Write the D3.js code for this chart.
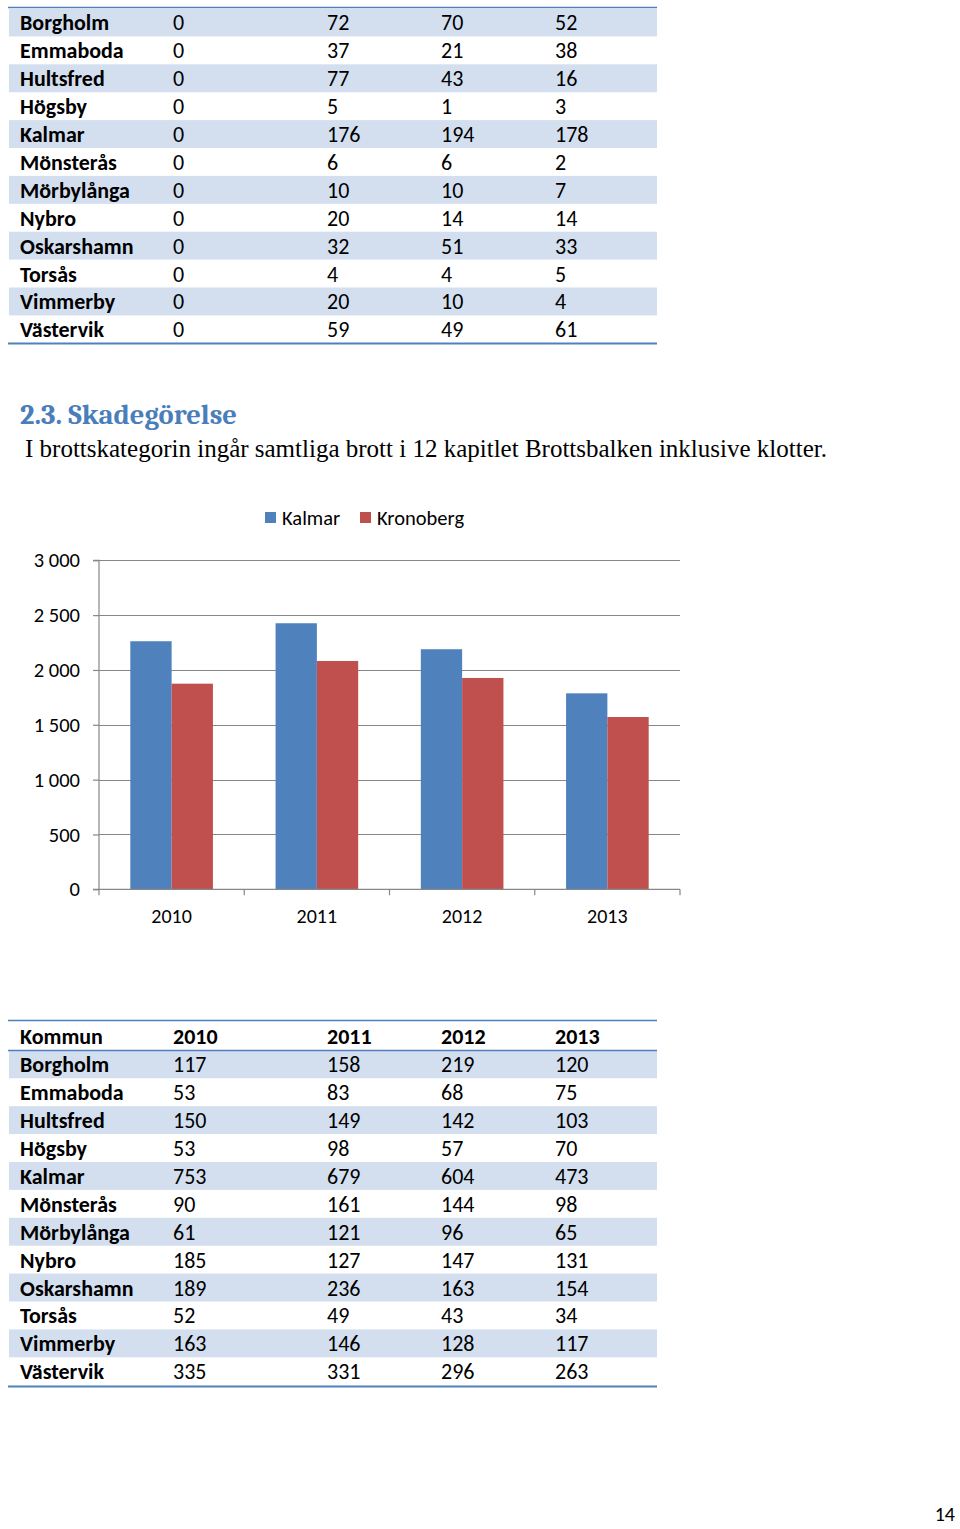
<!DOCTYPE html>
<html><head><meta charset="utf-8">
<script src="https://cdn.jsdelivr.net/npm/d3@7"></script>
<style>
body{margin:0;background:#fff;}
svg{display:block;}
</style></head>
<body>
<svg id="page" width="960" height="1529"></svg>
<script>
// ---------- data ----------
const topNames = ["Borgholm","Emmaboda","Hultsfred","Högsby","Kalmar","Mönsterås","Mörbylånga","Nybro","Oskarshamn","Torsås","Vimmerby","Västervik"];
const topColA = [0,0,0,0,0,0,0,0,0,0,0,0];
const topColB = [72,37,77,5,176,6,10,20,32,4,20,59];
const topColC = [70,21,43,1,194,6,10,14,51,4,10,49];
const topColD = [52,38,16,3,178,2,7,14,33,5,4,61];

const heading = "2.3. Skadegörelse";
const paragraph = "I brottskategorin ingår samtliga brott i 12 kapitlet Brottsbalken inklusive klotter.";

const years = ["2010","2011","2012","2013"];
const seriesNames = ["Kalmar","Kronoberg"];
const kalmar = [2262,2426,2189,1787];
const kronoberg = [1875,2082,1927,1571];
const yTicks = [0,500,1000,1500,2000,2500,3000];

const tableHeader = ["Kommun","2010","2011","2012","2013"];
const kommuner = ["Borgholm","Emmaboda","Hultsfred","Högsby","Kalmar","Mönsterås","Mörbylånga","Nybro","Oskarshamn","Torsås","Vimmerby","Västervik"];
const v2010 = [117,53,150,53,753,90,61,185,189,52,163,335];
const v2011 = [158,83,149,98,679,161,121,127,236,49,146,331];
const v2012 = [219,68,142,57,604,144,96,147,163,43,128,296];
const v2013 = [120,75,103,70,473,98,65,131,154,34,117,263];
const pageNumber = "14";

// ---------- styles ----------
const FONT = "Carlito, Lato, 'Open Sans', sans-serif";
const SERIF = "'Liberation Serif', 'DejaVu Serif', serif";
const BLUE = "#4F81BD", RED = "#C0504D", SHADE = "#D3DFEE", GRID = "#878787";
const svg = d3.select("#page");

// ---------- table helper ----------
function drawTable(g, rows, opts){
  const x0 = 8, x1 = 657, rh = 27.9;
  const colX = [20,173,327,441,555];
  const rowY = d3.scaleBand().domain(d3.range(rows.length)).range([opts.top, opts.top + rh*rows.length]);
  g.selectAll("rect.shade").data(rows.map((r,i)=>i).filter(i => (i + opts.shadeOffset) % 2 === 0))
    .join("rect").attr("class","shade")
    .attr("x", x0+1).attr("width", x1-x0-1)
    .attr("y", i => rowY(i)).attr("height", rowY.bandwidth())
    .attr("fill", SHADE);
  const rowG = g.selectAll("g.row").data(rows).join("g").attr("class","row")
    .attr("transform",(d,i)=>`translate(0,${rowY(i) + rowY.bandwidth()/2 + 8})`);
  rowG.selectAll("text").data((d,i)=>d.map((v,j)=>({v,j,i})))
    .join("text")
    .attr("x", d => colX[d.j])
    .attr("font-family", FONT)
    .attr("font-size", 22)
    .attr("font-weight", d => (d.j===0 || (opts.boldRow0 && d.i===0)) ? "bold" : "normal")
    .attr("fill","#000")
    .text(d => d.v);
  return rowY;
}

// ---------- top table ----------
const topRows = topNames.map((n,i)=>[n, topColA[i], topColB[i], topColC[i], topColD[i]]);
const gTop = svg.append("g");
gTop.append("line").attr("x1",8).attr("x2",657).attr("y1",7.5).attr("y2",7.5).attr("stroke",BLUE).attr("stroke-width",1.5);
const ryTop = drawTable(gTop, topRows, {top: 8.5, shadeOffset: 0});
gTop.append("line").attr("x1",8).attr("x2",657).attr("y1",343.5).attr("y2",343.5).attr("stroke",BLUE).attr("stroke-width",2);

// ---------- heading + paragraph ----------
svg.append("text").attr("x",20).attr("y",424).attr("font-family","Cambria, 'Liberation Serif', serif")
  .attr("font-weight","bold").attr("font-size",28.5).attr("fill","#4A7EBB").text(heading);
svg.append("text").attr("x",25).attr("y",457).attr("font-family",SERIF)
  .attr("font-size",25).attr("fill","#000").text(paragraph);

// ---------- chart ----------
const xL = 99, xR = 680, y0 = 889.3, y3000 = 560.3;
const x = d3.scaleBand().domain(years).range([xL, xR]).padding(0);
const xs = d3.scaleBand().domain(seriesNames).range([0, x.bandwidth()]).paddingInner(0).paddingOuter(0.758);
const y = d3.scaleLinear().domain([0,3000]).range([y0, y3000]);
const loc = d3.formatLocale({decimal:",", thousands:"\u00a0", grouping:[3], currency:["","kr"]});
const fmt = loc.format(",d");

const gC = svg.append("g");
// gridlines
gC.selectAll("line.grid").data(yTicks.filter(t=>t>0)).join("line").attr("class","grid")
  .attr("x1",xL).attr("x2",xR).attr("y1",d=>Math.round(y(d))+0.5).attr("y2",d=>Math.round(y(d))+0.5)
  .attr("stroke",GRID).attr("stroke-width",1.2);

// bars
const seriesVals = {Kalmar: kalmar, Kronoberg: kronoberg};
const colors = d3.scaleOrdinal().domain(seriesNames).range([BLUE, RED]);
const barData = [];
years.forEach((yr,i)=>seriesNames.forEach(s=>barData.push({yr, s, v: seriesVals[s][i]})));
gC.selectAll("rect.bar").data(barData).join("rect").attr("class","bar")
  .attr("x", d => x(d.yr) + xs(d.s)).attr("width", xs.bandwidth())
  .attr("y", d => y(d.v)).attr("height", d => y(0) - y(d.v))
  .attr("fill", d => colors(d.s));

// y axis
const yAxis = d3.axisLeft(y).tickValues(yTicks).tickSize(6).tickPadding(13).tickFormat(fmt);
const gy = gC.append("g").attr("transform",`translate(${xL},0)`).call(yAxis);
gy.select(".domain").attr("stroke",GRID).attr("stroke-width",1.2).attr("d",`M-6,${y3000}H0V${y0}`);
gy.selectAll(".tick line").attr("stroke",GRID).attr("stroke-width",1.2);
gy.selectAll(".tick text").attr("font-family",FONT).attr("font-size",20.5).attr("fill","#000");

// x axis
const gx = gC.append("g").attr("transform",`translate(0,${y0})`);
gx.append("line").attr("x1",xL-6).attr("x2",xR).attr("y1",0).attr("y2",0).attr("stroke",GRID).attr("stroke-width",1.2);
const bounds = years.map(d=>x(d)).concat([xR]);
gx.selectAll("line.tk").data(bounds).join("line").attr("class","tk")
  .attr("x1",d=>d).attr("x2",d=>d).attr("y1",0).attr("y2",6).attr("stroke",GRID).attr("stroke-width",1.2);
gx.selectAll("text").data(years).join("text")
  .attr("x", d => x(d) + x.bandwidth()/2).attr("y", 34)
  .attr("text-anchor","middle").attr("font-family",FONT).attr("font-size",20).attr("fill","#000")
  .text(d=>d);

// legend
const legendX = [265, 360];
const gL = svg.append("g");
const li = gL.selectAll("g").data(seriesNames).join("g").attr("transform",(d,i)=>`translate(${legendX[i]},512)`);
li.append("rect").attr("width",11).attr("height",11).attr("fill",d=>colors(d));
li.append("text").attr("x",17).attr("y",13).attr("font-family",FONT).attr("font-size",20.5).attr("fill","#000").text(d=>d);

// ---------- bottom table ----------
const botRows = [tableHeader].concat(kommuner.map((n,i)=>[n, v2010[i], v2011[i], v2012[i], v2013[i]]));
const gBot = svg.append("g");
gBot.append("line").attr("x1",8).attr("x2",657).attr("y1",1020.5).attr("y2",1020.5).attr("stroke",BLUE).attr("stroke-width",1.5);
const ryBot = drawTable(gBot, botRows, {top: 1022.5, shadeOffset: 1, boldRow0: true});
gBot.append("line").attr("x1",8).attr("x2",657).attr("y1",ryBot(1)).attr("y2",ryBot(1)).attr("stroke",BLUE).attr("stroke-width",1.5);
gBot.append("line").attr("x1",8).attr("x2",657).attr("y1",1386.5).attr("y2",1386.5).attr("stroke",BLUE).attr("stroke-width",2);

// page number
svg.append("text").attr("x",955).attr("y",1521).attr("text-anchor","end").attr("font-family",FONT)
  .attr("font-size",20).attr("fill","#000").text(pageNumber);
</script>
</body></html>
